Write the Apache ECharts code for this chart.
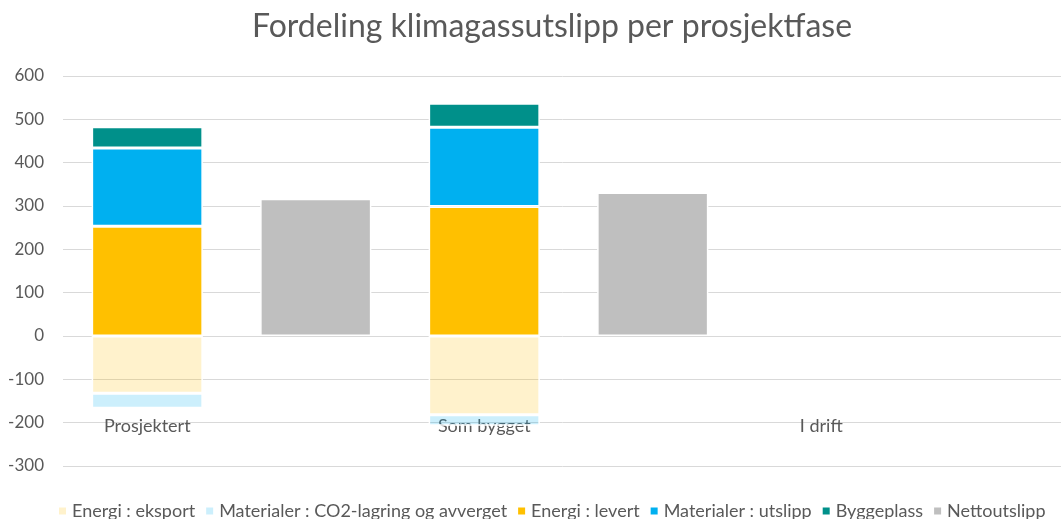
<!DOCTYPE html>
<html>
<head>
<meta charset="utf-8">
<script src="https://cdn.jsdelivr.net/npm/echarts@6/dist/echarts.min.js"></script>
<style>
  html, body { margin: 0; padding: 0; background: #fff; }
  #chart { width: 1061px; height: 519px; }
</style>
</head>
<body>
<div id="chart"></div>
<script>
// Fordeling klimagassutslipp per prosjektfase
const chart = echarts.init(document.getElementById('chart'));

const faser = ['Prosjektert', '', 'Som bygget', '', 'I drift', ''];

// negative
const energiEksport = [-132, '-', -182, '-', '-', '-'];
const materialerLagring = [-35, '-', -25, '-', '-', '-'];
// positive
const energiLevert = [253, '-', 299, '-', '-', '-'];
const materialerUtslipp = [181, '-', 183, '-', '-', '-'];
const byggeplass = [49, '-', 55, '-', '-', '-'];
const nettoutslipp = ['-', 317, '-', 331, '-', '-'];

const font = 'Lato, "Open Sans", sans-serif';
const txt = '#595959';

function bar(name, data, color) {
    return {
        name: name,
        type: 'bar',
        stack: 'fase',
        data: data,
        barWidth: '66%',
        itemStyle: { color: color, borderColor: '#fff', borderWidth: 1.5 }
    };
}

chart.setOption({
    animation: false,
    title: {
        text: 'Fordeling klimagassutslipp per prosjektfase',
        left: 247,
        top: 6,
        textStyle: { fontFamily: font, fontSize: 32, fontWeight: 'normal', color: txt }
    },
    legend: {
        bottom: -1,
        left: 57,
        padding: 0,
        icon: 'rect',
        itemWidth: 9,
        itemHeight: 9,
        itemGap: 9,
        textStyle: { fontFamily: font, fontSize: 18, color: txt },
        data: ['Energi : eksport', 'Materialer : CO2-lagring og avverget', 'Energi : levert',
               'Materialer : utslipp', 'Byggeplass', 'Nettoutslipp']
    },
    grid: {
        left: 63,
        width: 1011,
        top: 76,
        bottom: 53,
        outerBoundsMode: 'none'
    },
    xAxis: {
        type: 'category',
        data: faser,
        axisLine: { show: false },
        axisTick: { show: false },
        axisLabel: { margin: -49, fontFamily: font, fontSize: 18, color: txt, interval: 0 }
    },
    yAxis: {
        type: 'value',
        min: -300,
        max: 600,
        interval: 100,
        axisLine: { show: false },
        axisTick: { show: false },
        axisLabel: { margin: 19, fontFamily: font, fontSize: 17, color: txt },
        splitLine: { lineStyle: { color: '#d9d9d9', width: 1 } }
    },
    series: [
        bar('Energi : eksport', energiEksport, 'rgba(255,192,0,0.2)'),
        bar('Materialer : CO2-lagring og avverget', materialerLagring, 'rgba(0,176,240,0.2)'),
        bar('Energi : levert', energiLevert, '#ffc000'),
        bar('Materialer : utslipp', materialerUtslipp, '#00b0f0'),
        bar('Byggeplass', byggeplass, '#00908a'),
        bar('Nettoutslipp', nettoutslipp, '#bfbfbf')
    ]
});
</script>
</body>
</html>
